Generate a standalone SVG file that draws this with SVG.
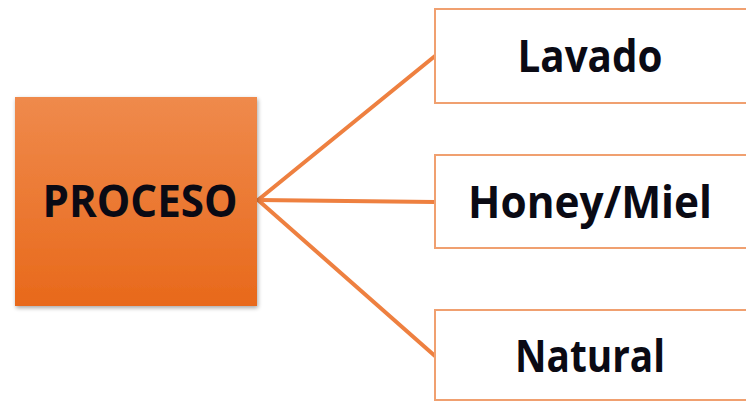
<svg xmlns="http://www.w3.org/2000/svg" width="746" height="403" viewBox="0 0 746 403">
<defs>
<linearGradient id="og" x1="0" y1="0" x2="0" y2="1">
<stop offset="0" stop-color="#EF8A4C"/>
<stop offset="1" stop-color="#E8691B"/>
</linearGradient>
<filter id="sh" x="-10%" y="-10%" width="130%" height="130%">
<feGaussianBlur in="SourceAlpha" stdDeviation="2"/>
<feOffset dx="1" dy="2"/>
<feComponentTransfer><feFuncA type="linear" slope="0.35"/></feComponentTransfer>
<feMerge><feMergeNode/><feMergeNode in="SourceGraphic"/></feMerge>
</filter>
</defs>
<style>
.t{font-family:"Open Sans","Liberation Sans",sans-serif;font-weight:bold;fill:#0a0a14;text-anchor:middle;font-size:45px}
.b{fill:#ffffff;stroke:#F0A070;stroke-width:2}
.c{stroke:#EE8040;stroke-width:4;fill:none;stroke-linecap:round}
</style>
<rect width="746" height="403" fill="#ffffff"/>
<g id="connectors">
<line class="c" x1="258" y1="200" x2="435" y2="56"/>
<line class="c" x1="258" y1="200" x2="435" y2="202"/>
<line class="c" x1="258" y1="200" x2="435" y2="356"/>
</g>
<g id="proceso">
<rect x="15" y="97" width="242" height="209" fill="url(#og)" filter="url(#sh)"/>
<text class="t" x="140" y="217" textLength="195" lengthAdjust="spacingAndGlyphs">PROCESO</text>
</g>
<g id="lavado">
<rect class="b" x="435" y="9" width="320" height="94"/>
<text class="t" x="590" y="72" textLength="145" lengthAdjust="spacingAndGlyphs">Lavado</text>
</g>
<g id="honey">
<rect class="b" x="435" y="155" width="320" height="93"/>
<text class="t" x="590" y="218" textLength="244" lengthAdjust="spacingAndGlyphs">Honey/Miel</text>
</g>
<g id="natural">
<rect class="b" x="435" y="310" width="320" height="90"/>
<text class="t" x="590" y="372" textLength="150" lengthAdjust="spacingAndGlyphs">Natural</text>
</g>
</svg>
